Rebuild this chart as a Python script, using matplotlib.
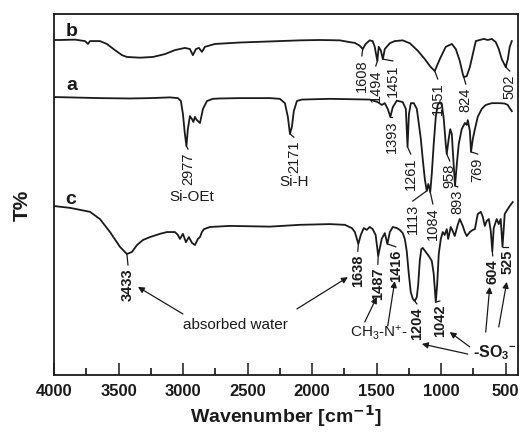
import matplotlib
matplotlib.use("Agg")
import matplotlib.pyplot as plt

plt.rcParams['font.family'] = ['Liberation Sans', 'DejaVu Sans']
plt.rcParams['mathtext.default'] = 'regular'

# ---------------- data ----------------
wn_b = [4000, 3954, 3837, 3760, 3737, 3721, 3644, 3590, 3528, 3473, 3435, 3334, 3233, 3140,
        3063, 2986, 2947, 2924, 2900, 2877, 2854, 2831, 2753, 2560, 2327, 2095, 1940, 1785,
        1708, 1669, 1631, 1608, 1585, 1554, 1531, 1515, 1495, 1484, 1468, 1452, 1437, 1398,
        1360, 1298, 1243, 1181, 1127, 1081, 1050, 1011, 965, 918, 887, 856, 833, 825, 802,
        778, 755, 732, 701, 670, 639, 608, 577, 554, 531, 507, 500, 484, 469, 453]
t_b = [92.8, 92.8, 92.9, 92.5, 91.7, 92.5, 92.5, 91.7, 90.0, 88.6, 88.1, 87.9, 88.1, 88.9,
       90.0, 90.6, 90.3, 88.6, 90.3, 90.6, 89.5, 90.9, 91.7, 92.1, 92.4, 92.7, 92.8, 92.7,
       92.2, 92.0, 91.2, 90.3, 91.7, 92.7, 92.5, 90.9, 87.0, 90.9, 89.9, 87.5, 90.3, 91.9,
       92.5, 92.7, 91.9, 89.8, 87.5, 85.3, 84.2, 87.5, 90.9, 91.7, 90.3, 87.0, 83.4, 82.5, 82.8,
       85.3, 88.9, 92.5, 92.8, 93.1, 92.8, 93.1, 92.2, 90.3, 87.5, 85.8, 85.3, 87.5, 90.9, 92.5]

wn_a = [4000, 3644, 3412, 3257, 3102, 3040, 3017, 3001, 2986, 2974, 2963, 2947, 2931, 2920,
        2908, 2893, 2869, 2846, 2815, 2769, 2715, 2560, 2327, 2250, 2211, 2188, 2172, 2157,
        2142, 2118, 2080, 1863, 1553, 1492, 1460, 1437, 1414, 1394, 1375, 1344, 1298, 1274,
        1261, 1250, 1235, 1212, 1189, 1173, 1158, 1143, 1127, 1112, 1100, 1085, 1073, 1058,
        1042, 1027, 1011, 996, 980, 965, 957, 942, 930, 918, 906, 893, 879, 864, 841, 817,
        802, 794, 778, 769, 755, 739, 717, 686, 655, 608, 546, 508, 484, 469, 453]
t_a = [77.0, 76.7, 76.6, 76.7, 76.9, 76.7, 75.9, 72.3, 66.8, 63.4, 68.1, 71.7, 70.9, 70.1,
       71.5, 70.6, 69.8, 73.7, 75.9, 76.5, 76.6, 76.7, 76.7, 76.5, 75.3, 71.5, 66.8, 68.7,
       73.1, 75.9, 76.3, 76.5, 76.3, 75.6, 74.8, 75.3, 73.7, 71.5, 74.2, 76.0, 75.6, 73.7,
       63.2, 72.3, 75.3, 75.3, 73.7, 69.5, 65.4, 59.8, 54.3, 51.0, 52.9, 50.7, 55.7, 64.0,
       71.5, 74.8, 75.6, 75.3, 70.9, 64.0, 61.2, 65.4, 68.1, 66.8, 59.8, 52.4, 58.4, 64.0, 68.1,
       69.8, 69.3, 70.6, 67.6, 61.8, 65.4, 68.1, 71.5, 73.7, 74.8, 75.3, 75.3, 75.2, 74.8, 73.9, 73.1]

wn_c = [4000, 3876, 3721, 3644, 3566, 3489, 3435, 3396, 3357, 3311, 3257, 3179, 3125, 3063,
        3040, 3024, 3001, 2978, 2955, 2931, 2908, 2885, 2869, 2854, 2838, 2792, 2637, 2327,
        2095, 1863, 1747, 1692, 1669, 1642, 1623, 1600, 1577, 1554, 1531, 1508, 1488, 1477,
        1461, 1437, 1417, 1398, 1375, 1344, 1321, 1298, 1282, 1267, 1251, 1236, 1220, 1205,
        1189, 1178, 1166, 1154, 1143, 1120, 1097, 1073, 1058, 1042, 1031, 1019, 1003, 988,
        973, 957, 946, 926, 911, 895, 872, 856, 833, 817, 802, 778, 755, 739, 717, 693, 678,
        662, 647, 631, 616, 604, 593, 570, 554, 539, 525, 508, 484, 469, 446]
t_c = [46.8, 46.3, 45.2, 43.2, 39.6, 35.5, 33.5, 34.1, 36.0, 37.4, 38.2, 39.1, 39.6, 39.6,
       38.8, 37.7, 39.1, 36.8, 38.2, 36.6, 36.0, 37.7, 38.2, 39.6, 40.4, 41.0, 41.3, 41.1,
       41.6, 41.8, 41.6, 40.7, 39.6, 36.3, 38.8, 40.7, 40.2, 41.0, 40.4, 38.8, 33.0, 34.9,
       37.7, 39.3, 36.3, 39.6, 41.0, 40.7, 40.2, 39.3, 37.7, 34.3, 28.0, 23.0, 21.1, 20.5,
       21.6, 25.2, 31.6, 34.9, 35.2, 34.1, 33.0, 31.6, 28.0, 20.2, 25.2, 33.5, 37.7, 39.6,
       38.8, 40.4, 37.7, 41.0, 39.9, 38.5, 41.6, 43.2, 41.3, 39.6, 38.5, 39.6, 40.2, 40.4, 44.6,
       45.2, 43.8, 41.3, 42.7, 43.2, 39.9, 34.3, 40.7, 43.2, 41.8, 43.2, 35.5, 44.6, 46.0, 46.8, 47.9]

series_names = ['b', 'a', 'c']
x_ticks = [4000, 3500, 3000, 2500, 2000, 1500, 1000, 500]
x_minor = [3750, 3250, 2750, 2250, 1750, 1250, 750]

# ---------------- figure ----------------
W, H = 520, 435
fig = plt.figure(figsize=(W / 100, H / 100), dpi=100)
ax = fig.add_axes([54 / W, 1 - 376 / H, (518 - 54) / W, (376 - 15) / H])

lc = '#1a1a1a'
for wn, t in [(wn_b, t_b), (wn_a, t_a), (wn_c, t_c)]:
    ax.plot(wn, t, color=lc, lw=1.3, solid_joinstyle='round')

ax.set_xlim(4000, 405)
ax.set_ylim(0, 100)
ax.set_yticks([])
ax.set_xticks(x_ticks)
ax.set_xticks(x_minor, minor=True)
ax.tick_params(axis='x', which='major', direction='in', length=9, width=1.1, pad=6,
               labelsize=12, colors=lc)
ax.tick_params(axis='x', which='minor', direction='in', length=5, width=1.1)
for lab in ax.get_xticklabels():
    lab.set_fontweight('bold')
for s in ax.spines.values():
    s.set_linewidth(1.3)
    s.set_color(lc)

# curve letters
for name, (x, y) in zip(series_names, [(3861, 95.3), (3861, 80.6), (3868, 49.0)]):
    ax.text(x, y, name, ha='center', va='center', fontsize=14, fontweight='bold', color=lc)

# peak labels: (text, peak x, peak y, label x, label top y, bold)
peaks = [
    ('1608', 1608, 90.3, 1615, 88.4, False),
    ('1494', 1494, 87.0, 1507, 85.6, False),
    ('1451', 1451, 87.5, 1375, 87.0, False),
    ('1051', 1050, 84.2, 1027, 82.0, False),
    ('824', 825, 82.5, 810, 80.6, False),
    ('502', 500, 85.3, 469, 84.2, False),
    ('2977', 2974, 63.4, 2962, 62.6, False),
    ('2171', 2172, 66.8, 2142, 65.9, False),
    ('1393', 1394, 71.5, 1383, 71.5, False),
    ('1261', 1261, 63.2, 1236, 61.2, False),
    ('1113', 1112, 51.0, 1220, 48.2, False),
    ('1084', 1085, 50.7, 1065, 47.4, False),
    ('958', 957, 61.2, 934, 59.3, False),
    ('893', 893, 52.4, 872, 52.1, False),
    ('769', 769, 61.8, 717, 61.2, False),
    ('3433', 3435, 33.5, 3427, 30.5, True),
    ('1638', 1642, 36.3, 1646, 34.3, True),
    ('1487', 1488, 33.0, 1491, 30.7, True),
    ('1416', 1417, 36.3, 1352, 35.5, True),
    ('1204', 1205, 20.5, 1189, 19.7, True),
    ('1042', 1042, 20.2, 1011, 20.5, True),
    ('604', 604, 34.3, 601, 33.0, True),
    ('525', 525, 35.5, 484, 35.5, True),
]
for txt, px, py, lx, ly, bold in peaks:
    ax.text(lx, ly - 0.6, txt, rotation=90, ha='center', va='top', fontsize=10.5,
            fontweight='bold' if bold else 'normal', color=lc)
    ax.plot([px, lx], [py, ly], color=lc, lw=0.9)

ax.text(2931, 49.6, 'Si-OEt', ha='center', va='center', fontsize=11, color=lc)
ax.text(2142, 53.7, 'Si-H', ha='center', va='center', fontsize=11, color=lc)

ax.text(2591, 14.1, 'absorbed water', ha='center', va='center', fontsize=11, color=lc)
ax.text(1708, 11.9, 'CH$_3$-N$^{+}$-', ha='left', va='center', fontsize=11, color=lc)
ax.text(756, 6.4, '-SO$_3$$^{-}$', ha='left', va='center', fontsize=11.5,
        fontweight='bold', color=lc)

arrows = [
    ((3001, 16.9), (3350, 24.4)),
    ((2118, 18.3), (1723, 27.1)),
    ((1592, 14.7), (1499, 21.6)),
    ((1414, 13.6), (1360, 26.0)),
    ((794, 5.8), (1150, 8.6)),
    ((779, 7.8), (934, 11.9)),
    ((655, 11.9), (624, 24.4)),
    ((554, 13.3), (492, 25.8)),
]
for tail, head in arrows:
    ax.annotate('', xy=head, xytext=tail,
                arrowprops=dict(arrowstyle='-|>', lw=0.9, color=lc, mutation_scale=9,
                                shrinkA=0, shrinkB=0))

fig.text(22 / W, 1 - 205 / H, 'T%', rotation=90, ha='center', va='center',
         fontsize=15, fontweight='bold', color=lc)
fig.text(286 / W, 1 - 416 / H, 'Wavenumber [cm$^{\\mathbf{-1}}$]', ha='center', va='center',
         fontsize=14, fontweight='bold', color=lc)

fig.savefig('out.png', dpi=100)
